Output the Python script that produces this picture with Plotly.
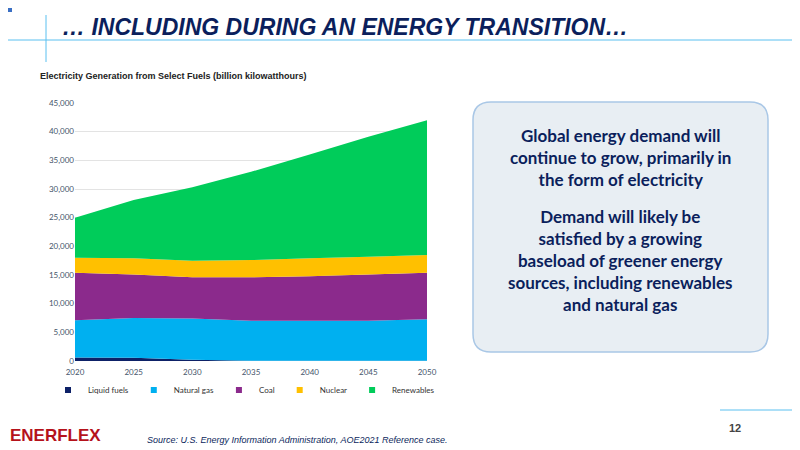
import plotly.graph_objects as go

years = [2020, 2025, 2030, 2035, 2040, 2045, 2050]
liquid_fuels = [600, 550, 200, 50, 30, 30, 30]
natural_gas = [6500, 6950, 7200, 6950, 6970, 6970, 7270]
coal = [8300, 7600, 7200, 7600, 7800, 8100, 8100]
nuclear = [2600, 2800, 2900, 3000, 3100, 3100, 3100]
renewables = [7000, 10200, 12800, 15400, 18100, 20900, 23500]

series = [
    ("Liquid fuels", liquid_fuels, "#0d2167"),
    ("Natural gas", natural_gas, "#00b0f0"),
    ("Coal", coal, "#8b2a8c"),
    ("Nuclear", nuclear, "#ffc000"),
    ("Renewables", renewables, "#00cc5a"),
]

# page has an 8px body margin, so shift everything up/left by that
OFF = 8
def px(x):
    return (x - OFF) / 800
def py(y):
    return 1 - (y - OFF) / 450

fig = go.Figure()
for name, vals, col in series:
    fig.add_trace(go.Scatter(
        x=years, y=vals, name=name, stackgroup="one", mode="none",
        fillcolor=col, line=dict(width=0), showlegend=False,
    ))
# compact legend entries
for name, vals, col in series:
    fig.add_trace(go.Scatter(
        x=[None], y=[None], name=name, mode="markers",
        marker=dict(symbol="square", size=6, color=col),
    ))

navy = "#0b1f5c"
fig.update_layout(
    width=800, height=450,
    paper_bgcolor="white", plot_bgcolor="white",
    margin=dict(l=0, r=0, t=0, b=0),
    font=dict(family="Lato", size=8, color="#44546a"),
    xaxis=dict(domain=[px(75), px(427)], range=[2020, 2050], tickvals=years,
               showgrid=False, zeroline=False, ticks="", showline=False, automargin=False,
               ticklabelstandoff=5),
    yaxis=dict(domain=[py(361), py(103)], range=[0, 45000], dtick=5000,
               tickformat=",", gridcolor="#e3e3e3", zeroline=False, ticks="", automargin=False),
    legend=dict(orientation="h", x=px(244), y=py(390), xanchor="center",
                yanchor="middle", font=dict(size=8, color="#333"),
                itemwidth=30, traceorder="normal"),
    title=dict(text="<b><i>… INCLUDING DURING AN ENERGY TRANSITION…</i></b>",
               x=px(62), xanchor="left", y=py(27), yanchor="middle",
               font=dict(family="Liberation Sans Narrow, Liberation Sans", size=23, color=navy)),
)

x0, x1, y0, y1, r = px(473), px(768), py(352), py(102), 18
rx, ry = r / 800, r / 450
box = (f"M {x0+rx},{y1} L {x1-rx},{y1} Q {x1},{y1} {x1},{y1-ry} "
       f"L {x1},{y0+ry} Q {x1},{y0} {x1-rx},{y0} L {x0+rx},{y0} "
       f"Q {x0},{y0} {x0},{y0+ry} L {x0},{y1-ry} Q {x0},{y1} {x0+rx},{y1} Z")

shapes = [
    dict(type="rect", xref="paper", yref="paper", x0=px(0), x1=px(12), y0=py(12), y1=py(0),
         fillcolor="#3a6fc4", line_width=0),
    dict(type="line", xref="paper", yref="paper", x0=px(0), x1=1, y0=py(40), y1=py(40),
         line=dict(color="#5bc0f0", width=1)),
    dict(type="line", xref="paper", yref="paper", x0=px(46), x1=px(46), y0=py(15), y1=py(62),
         line=dict(color="#5bc0f0", width=1)),
    dict(type="line", xref="paper", yref="paper", x0=px(720), x1=1, y0=py(410), y1=py(410),
         line=dict(color="#5bc0f0", width=1)),
    dict(type="path", xref="paper", yref="paper", path=box,
         fillcolor="#e8eef3", line=dict(color="#a9c7e6", width=1.5)),
]
fig.update_layout(shapes=shapes)

def note(text, x, y, size, color, family="Liberation Sans", xanchor="center"):
    fig.add_annotation(text=text, xref="paper", yref="paper", x=px(x), y=py(y),
                       xanchor=xanchor, yanchor="middle", showarrow=False,
                       font=dict(family=family, size=size, color=color))

note("<b>Electricity Generation from Select Fuels (billion kilowatthours)</b>", 38, 76, 9, "#222",
     xanchor="left")
note("<b>Global energy demand will<br>continue to grow, primarily in<br>the form of electricity</b>",
     620, 157, 17, navy, family="Lato")
note("<b>Demand will likely be<br>satisfied by a growing<br>baseload of greener energy<br>sources, including renewables<br>and natural gas</b>",
     620, 260, 17, navy, family="Lato")
note("<b>ENERFLEX</b>", 8, 435, 17, "#b5121b", xanchor="left")
note("<i>Source: U.S. Energy Information Administration, AOE2021 Reference case.</i>",
     145, 440, 9, navy, xanchor="left")
note("<b>12</b>", 735, 428, 11, "#444")

fig.write_html("out.html")
